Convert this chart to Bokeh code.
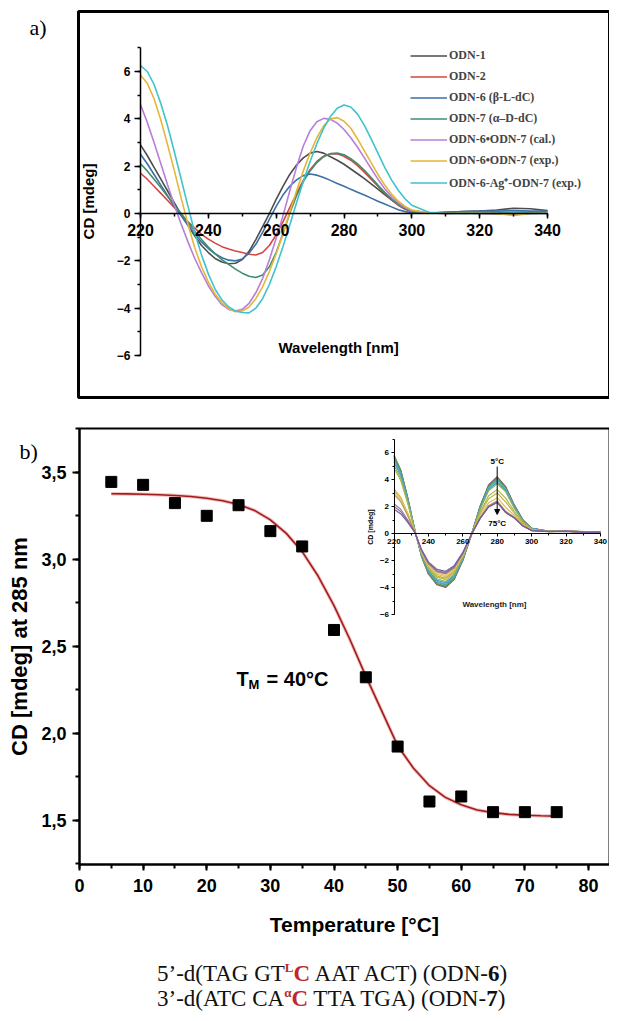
from bokeh.plotting import figure
from bokeh.models import (Range1d, LinearAxis, SingleIntervalTicker, Label, Legend, LegendItem,
                          CustomJSTickFormatter, Arrow, NormalHead, Div, BoxAnnotation)
from bokeh.layouts import column
from bokeh.core.properties import value
from bokeh.embed import file_html
from bokeh.resources import INLINE

# ---------------- data: panel a (CD spectra) ----------------
wl_a = list(range(220, 301, 2)) + [305, 310, 315, 320, 325, 330, 335, 340]

odn1 = [2.9, 2.45, 1.95, 1.45, 0.95, 0.45, -0.05, -0.5, -0.95, -1.35,
        -1.65, -1.9, -2.05, -2.12, -2.1, -1.95, -1.6, -1.1, -0.55, 0.0,
        0.6, 1.15, 1.65, 2.05, 2.35, 2.55, 2.62, 2.55, 2.4, 2.25,
        2.08, 1.88, 1.68, 1.47, 1.25, 1.03, 0.8, 0.58, 0.38, 0.2,
        0.08, 0.02, 0.05, 0.08, 0.1, 0.15, 0.22, 0.2, 0.12]
odn2 = [1.7, 1.45, 1.15, 0.85, 0.55, 0.25, -0.05, -0.35, -0.62, -0.88,
        -1.08, -1.25, -1.4, -1.5, -1.58, -1.65, -1.72, -1.75, -1.65, -1.35,
        -0.9, -0.35, 0.25, 0.85, 1.4, 1.85, 2.2, 2.42, 2.52, 2.52,
        2.42, 2.25, 2.02, 1.75, 1.45, 1.15, 0.85, 0.58, 0.35, 0.18,
        0.08, 0.02, 0.0, 0.02, 0.0, -0.02, -0.05, 0.0, 0.02]
odn6 = [2.5, 2.1, 1.65, 1.2, 0.75, 0.3, -0.1, -0.5, -0.88, -1.2,
        -1.48, -1.7, -1.87, -1.97, -2.0, -1.92, -1.68, -1.3, -0.8, -0.25,
        0.3, 0.78, 1.15, 1.42, 1.6, 1.67, 1.62, 1.52, 1.4, 1.27,
        1.15, 1.02, 0.9, 0.78, 0.65, 0.52, 0.4, 0.28, 0.16, 0.08,
        0.03, 0.02, 0.05, 0.08, 0.1, 0.1, 0.12, 0.1, 0.1]
odn7 = [2.1, 1.8, 1.45, 1.1, 0.72, 0.35, 0.0, -0.38, -0.75, -1.1,
        -1.42, -1.7, -1.95, -2.15, -2.35, -2.52, -2.65, -2.7, -2.6, -2.25,
        -1.65, -0.85, 0.0, 0.75, 1.35, 1.8, 2.15, 2.4, 2.53, 2.55,
        2.48, 2.32, 2.1, 1.82, 1.52, 1.2, 0.9, 0.62, 0.38, 0.2,
        0.08, 0.02, 0.02, 0.05, 0.05, 0.05, 0.05, 0.05, 0.05]
duplex_cal = [4.6, 3.85, 3.0, 2.1, 1.2, 0.35, -0.45, -1.2, -1.9, -2.5,
              -3.05, -3.5, -3.85, -4.05, -4.12, -4.05, -3.8, -3.35, -2.75, -1.95,
              -1.05, -0.1, 0.95, 1.95, 2.85, 3.5, 3.88, 4.02, 3.98, 3.82,
              3.55, 3.2, 2.8, 2.35, 1.9, 1.45, 1.05, 0.72, 0.45, 0.25,
              0.12, 0.02, 0.0, 0.0, 0.0, 0.0, 0.0, 0.0, 0.0]
duplex_exp = [5.85, 5.5, 4.85, 3.95, 2.9, 1.8, 0.65, -0.45, -1.45, -2.25,
              -2.9, -3.4, -3.78, -4.02, -4.15, -4.12, -3.95, -3.6, -3.1, -2.45,
              -1.7, -0.85, 0.05, 0.95, 1.8, 2.55, 3.2, 3.7, 4.0, 4.05,
              3.9, 3.6, 3.15, 2.65, 2.15, 1.65, 1.2, 0.82, 0.52, 0.3,
              0.15, 0.03, 0.0, 0.02, 0.02, 0.0, -0.08, 0.0, 0.02]
duplex_ag = [6.25, 6.0, 5.45, 4.65, 3.7, 2.6, 1.45, 0.3, -0.8, -1.75,
             -2.55, -3.2, -3.65, -3.95, -4.12, -4.18, -4.2, -4.0, -3.6, -3.0,
             -2.25, -1.4, -0.5, 0.45, 1.35, 2.2, 2.95, 3.6, 4.1, 4.45,
             4.58, 4.5, 4.2, 3.72, 3.15, 2.55, 1.95, 1.42, 0.98, 0.62,
             0.35, 0.05, 0.0, 0.0, 0.0, 0.0, 0.02, 0.0, 0.0]

names_a = ["ODN-1", "ODN-2", "ODN-6 (β-L-dC)", "ODN-7 (α–D-dC)",
           "ODN-6•ODN-7 (cal.)", "ODN-6•ODN-7 (exp.)", "ODN-6-Ag⁺-ODN-7 (exp.)"]
colors_a = ["#4d4d4d", "#d64541", "#3b6fa8", "#3e8e6e", "#b77fd8", "#e6b53a", "#3fc3cc"]

# ---------------- data: panel b (melting) ----------------
temp_c = [5, 10, 15, 20, 25, 30, 35, 40, 45, 50, 55, 60, 65, 70, 75]
cd285 = [3.446, 3.429, 3.324, 3.251, 3.312, 3.163, 3.075, 2.595, 2.323, 1.925,
         1.609, 1.638, 1.548, 1.548, 1.548]
fit_t = [5, 7.5, 10, 12.5, 15, 17.5, 20, 22.5, 25, 27.5, 30, 32.5, 35, 37.5, 40,
         42.5, 45, 47.5, 50, 52.5, 55, 57.5, 60, 62.5, 65, 67.5, 70, 72.5, 75]
fit_cd = [3.378, 3.377, 3.375, 3.372, 3.368, 3.362, 3.352, 3.338, 3.316, 3.282,
          3.228, 3.15, 3.045, 2.905, 2.735, 2.54, 2.33, 2.13, 1.93, 1.80,
          1.70, 1.633, 1.59, 1.56, 1.545, 1.535, 1.53, 1.527, 1.525]

# ---------------- data: inset (spectra 5..75 °C) ----------------
inset_wl = [220, 224, 228, 232, 236, 240, 245, 250, 255, 260, 265, 270, 275, 280,
            285, 290, 295, 300, 310, 320, 330, 340]
ins_05 = [5.7, 4.6, 2.6, 0.3, -1.7, -3.0, -3.8, -4.0, -3.4, -2.0, -0.1, 2.0, 3.6, 4.2, 3.45, 2.1, 1.0, 0.4, 0.15, 0.2, 0.1, 0.1]
ins_10 = [5.8, 4.68, 2.65, 0.31, -1.68, -2.96, -3.75, -3.95, -3.36, -1.98, -0.1, 1.98, 3.56, 4.15, 3.43, 2.08, 0.99, 0.39, 0.18, 0.22, 0.12, 0.08]
ins_15 = [5.75, 4.64, 2.62, 0.3, -1.66, -2.93, -3.71, -3.9, -3.32, -1.95, -0.1, 1.93, 3.47, 4.05, 3.32, 2.03, 0.96, 0.38, 0.14, 0.18, 0.1, 0.12]
ins_20 = [5.6, 4.52, 2.55, 0.3, -1.62, -2.85, -3.61, -3.8, -3.23, -1.9, -0.1, 1.88, 3.39, 3.95, 3.25, 1.98, 0.94, 0.38, 0.16, 0.2, 0.14, 0.1]
ins_25 = [5.45, 4.4, 2.49, 0.29, -1.59, -2.81, -3.56, -3.75, -3.19, -1.88, -0.09, 1.88, 3.39, 3.95, 3.31, 1.98, 0.94, 0.38, 0.15, 0.17, 0.08, 0.06]
ins_30 = [5.3, 4.28, 2.42, 0.28, -1.55, -2.74, -3.47, -3.65, -3.1, -1.83, -0.09, 1.81, 3.26, 3.8, 3.16, 1.9, 0.9, 0.36, 0.17, 0.21, 0.1, 0.08]
ins_35 = [5.05, 4.08, 2.3, 0.27, -1.51, -2.66, -3.37, -3.55, -3.02, -1.78, -0.09, 1.76, 3.17, 3.7, 3.08, 1.85, 0.88, 0.35, 0.14, 0.19, 0.12, 0.1]
ins_40 = [4.85, 3.91, 2.21, 0.26, -1.45, -2.55, -3.23, -3.4, -2.89, -1.7, -0.09, 1.55, 2.79, 3.25, 2.6, 1.63, 0.77, 0.31, 0.16, 0.2, 0.08, 0.05]
ins_45 = [3.3, 2.66, 1.5, 0.17, -1.4, -2.48, -3.14, -3.3, -2.81, -1.65, -0.08, 1.43, 2.57, 3.0, 2.32, 1.5, 0.71, 0.29, 0.15, 0.22, 0.1, 0.12]
ins_50 = [3.2, 2.58, 1.46, 0.17, -1.36, -2.4, -3.04, -3.2, -2.72, -1.6, -0.08, 1.26, 2.27, 2.65, 1.93, 1.33, 0.63, 0.25, 0.14, 0.18, 0.06, 0.1]
ins_55 = [3.05, 2.46, 1.39, 0.16, -1.32, -2.33, -2.95, -3.1, -2.64, -1.55, -0.08, 1.14, 2.06, 2.4, 1.61, 1.2, 0.57, 0.23, 0.15, 0.2, 0.12, 0.08]
ins_60 = [2.9, 2.34, 1.32, 0.15, -1.28, -2.25, -2.85, -3.0, -2.55, -1.5, -0.08, 1.14, 2.06, 2.4, 1.64, 1.2, 0.57, 0.23, 0.17, 0.16, 0.1, 0.06]
ins_65 = [2.2, 1.78, 1.0, 0.12, -1.25, -2.21, -2.8, -2.95, -2.51, -1.48, -0.07, 1.12, 2.01, 2.35, 1.55, 1.18, 0.56, 0.22, 0.16, 0.2, 0.14, 0.12]
ins_70 = [2.0, 1.61, 0.91, 0.11, -1.23, -2.18, -2.76, -2.9, -2.47, -1.45, -0.07, 1.1, 1.97, 2.3, 1.55, 1.15, 0.55, 0.22, 0.15, 0.18, 0.1, 0.08]
ins_75 = [1.8, 1.45, 0.82, 0.1, -1.19, -2.1, -2.66, -2.8, -2.38, -1.4, -0.07, 1.1, 1.97, 2.3, 1.55, 1.15, 0.55, 0.22, 0.14, 0.16, 0.08, 0.1]
inset_colors = ["#7d4f7d", "#8c6d4f", "#5a9e4b", "#3f9e8a", "#45b5c9", "#5a8fd0", "#88b45a",
                "#a8b94a", "#c9b23f", "#d8c25a", "#e2c96a", "#b89a5e", "#9a7f8a", "#8a6fa8", "#7a5ca0"]

SANS = "Liberation Sans"
SERIF = "Liberation Serif"
W = 609


def style_axis(ax, fs, lw, mo, mno):
    ax.axis_line_width = lw
    ax.axis_line_color = "black"
    ax.major_tick_line_width = lw
    ax.minor_tick_line_width = lw
    ax.major_tick_in = 0
    ax.minor_tick_in = 0
    ax.major_tick_out = mo
    ax.minor_tick_out = mno
    ax.major_label_text_font = SANS
    ax.major_label_text_font_style = "bold"
    ax.major_label_text_font_size = fs
    ax.major_label_text_color = "black"
    ax.axis_label_text_font = SANS
    ax.axis_label_text_font_style = "bold"
    ax.axis_label_text_color = "black"


def lab(**kw):
    base = dict(text_font=SANS, text_font_style="bold", text_color="black")
    base.update(kw)
    return Label(**base)


# ================= panel a =================
pa = figure(width=W, height=412, output_backend="svg", toolbar_location=None,
            x_range=Range1d(178.73, 358.27), y_range=Range1d(-8.407, 8.999),
            x_axis_location=None, y_axis_location=None,
            min_border_left=0, min_border_right=0, min_border_top=0, min_border_bottom=0)
pa.grid.visible = False
pa.outline_line_color = None
pa.add_layout(BoxAnnotation(left=201.72, right=358.27, bottom=-7.773, top=8.534,
                            fill_alpha=0, line_color="black", line_alpha=1, line_width=3))

items = []
for name, ys, c in zip(names_a, [odn1, odn2, odn6, odn7, duplex_cal, duplex_exp, duplex_ag], colors_a):
    r = pa.line(wl_a, ys, line_color=c, line_width=1.6)
    items.append(LegendItem(label=value(name), renderers=[r]))

ay = LinearAxis(fixed_location=220, bounds=(-6, 7),
                ticker=SingleIntervalTicker(interval=2, num_minor_ticks=2),
                axis_label="CD [mdeg]")
style_axis(ay, "12px", 1.5, 6, 3)
ay.major_label_standoff = 4
ay.axis_label_text_font_size = "15px"
ay.axis_label_standoff = 17
pa.add_layout(ay, "left")

ax = LinearAxis(fixed_location=0, bounds=(220, 340),
                ticker=SingleIntervalTicker(interval=20, num_minor_ticks=2))
style_axis(ax, "16px", 1.5, 5, 3)
ax.major_label_standoff = 5
pa.add_layout(ax, "below")

pa.add_layout(lab(x=278.4, y=-5.66, text="Wavelength [nm]", text_align="center",
                  text_baseline="middle", text_font_size="15px"))
pa.add_layout(lab(x=187.3, y=7.86, text="a)", text_font=SERIF, text_font_style="normal",
                  text_font_size="22px", text_baseline="alphabetic"))

# legend: frame bottom-left is the canvas bottom-left here
leg = Legend(items=items, location=(410, 221), orientation="vertical",
             label_text_font=SERIF, label_text_font_style="bold", label_text_font_size="12px",
             glyph_width=37, glyph_height=15, label_height=15, label_standoff=2, spacing=6,
             padding=0, margin=0, border_line_color=None, background_fill_alpha=0)
pa.add_layout(leg)

# ================= panel b =================
HB = 528
pb = figure(width=W, height=HB, output_backend="svg", toolbar_location=None,
            x_range=Range1d(-12.416, 83.30), y_range=Range1d(0.8103, 3.8448),
            x_axis_location=None, y_axis_location=None,
            min_border_left=0, min_border_right=0, min_border_top=0, min_border_bottom=0)
pb.grid.visible = False
pb.outline_line_color = None
pb.extra_x_ranges = {"ix": Range1d(-8.78, 345.29)}
pb.extra_y_ranges = {"iy": Range1d(-30.148, 8.963)}
pb.add_layout(BoxAnnotation(left=0, right=83.30, bottom=1.247, top=3.753,
                            fill_alpha=0, line_color="black", line_alpha=1, line_width=2))

bx = LinearAxis(fixed_location=1.247, bounds=(0, 83.3),
                ticker=SingleIntervalTicker(interval=10, num_minor_ticks=2))
style_axis(bx, "18px", 2, 6, 4)
bx.major_label_standoff = 8
pb.add_layout(bx, "below")
by = LinearAxis(fixed_location=0, bounds=(1.247, 3.753),
                ticker=SingleIntervalTicker(interval=0.5, num_minor_ticks=2),
                formatter=CustomJSTickFormatter(code="return tick.toFixed(1).replace('.', ',');"),
                axis_label="CD [mdeg] at 285 nm")
style_axis(by, "18px", 2, 7, 4)
by.major_label_standoff = 6
by.axis_label_text_font_size = "22px"
by.axis_label_standoff = 6
pb.add_layout(by, "left")
pb.add_layout(lab(x=43.2, y=0.902, text="Temperature [°C]", text_align="center",
                  text_baseline="middle", text_font_size="21px"))

# inset spectra
inset_series = [ins_05, ins_10, ins_15, ins_20, ins_25, ins_30, ins_35, ins_40,
                ins_45, ins_50, ins_55, ins_60, ins_65, ins_70, ins_75]
for ys, c in zip(inset_series, inset_colors):
    pb.line(inset_wl, ys, x_range_name="ix", y_range_name="iy", line_color=c, line_width=1.2)

iy = LinearAxis(x_range_name="ix", y_range_name="iy", fixed_location=220, bounds=(-6, 7),
                ticker=SingleIntervalTicker(interval=2, num_minor_ticks=2), axis_label="CD [mdeg]")
style_axis(iy, "8px", 1, 3, 2)
iy.major_label_standoff = 2
iy.axis_label_text_font_size = "7px"
iy.axis_label_standoff = 3
pb.add_layout(iy, "left")
ix = LinearAxis(x_range_name="ix", y_range_name="iy", fixed_location=0, bounds=(220, 340),
                ticker=SingleIntervalTicker(interval=20, num_minor_ticks=2))
style_axis(ix, "8px", 1, 3, 2)
ix.major_label_standoff = 2
pb.add_layout(ix, "below")
pb.add_layout(lab(x=278.4, y=-5.26, x_range_name="ix", y_range_name="iy", text="Wavelength [nm]",
                  text_align="center", text_baseline="middle", text_font_size="8px", text_color="#222"))
pb.add_layout(lab(x=280, y=5.33, x_range_name="ix", y_range_name="iy", text="5°C",
                  text_align="center", text_baseline="middle", text_font_size="8px"))
pb.add_layout(lab(x=280, y=0.75, x_range_name="ix", y_range_name="iy", text="75°C",
                  text_align="center", text_baseline="middle", text_font_size="8px"))
pb.add_layout(Arrow(end=NormalHead(size=5, fill_color="black", line_color="black"),
                    x_start=280, y_start=4.96, x_end=280, y_end=1.41,
                    x_range_name="ix", y_range_name="iy", line_width=1, line_color="black"))

# melting curve
pb.line(fit_t, fit_cd, line_color="#e58080", line_width=3.5, line_alpha=0.5)
pb.line(fit_t, fit_cd, line_color="#a11d1d", line_width=1.6)
pb.scatter(temp_c, cd285, marker="square", size=11, fill_color="black", line_color="black")

pb.add_layout(lab(x=24.68, y=2.316, text="T", text_font_size="20px", text_baseline="alphabetic"))
pb.add_layout(lab(x=24.68, y=2.316, x_offset=12, y_offset=-6, text="M",
                  text_font_size="13px", text_baseline="alphabetic"))
pb.add_layout(lab(x=24.68, y=2.316, x_offset=30, text="= 40°C",
                  text_font_size="20px", text_baseline="alphabetic"))
pb.add_layout(lab(x=-9.43, y=3.621, text="b)", text_font=SERIF, text_font_style="normal",
                  text_font_size="22px", text_baseline="alphabetic"))

# ================= sequences =================
red = "#c0282d"
sup = f'<span style="color:{red};font-weight:bold;font-size:13px;vertical-align:9px;line-height:0;">'
big = f'<span style="color:{red};font-weight:bold;font-size:23px;">'
seq_html = (
    f'<div style="font-family:\'Liberation Serif\',serif;font-size:23px;line-height:25px;'
    f'color:#111;text-align:left;padding-left:157px;padding-top:21px;white-space:nowrap;">'
    f'5’-d(TAG GT{sup}L</span>{big}C</span> AAT ACT) (ODN-<b>6</b>)<br>'
    f'3’-d(ATC CA{sup}α</span>{big}C</span> TTA TGA) (ODN-<b>7</b>)</div>'
)
div = Div(text=seq_html, width=W, height=1013 - 8 - 412 - HB, margin=(0, 0, 0, 0))

layout = column(pa, pb, div, spacing=0)
open("out.html", "w").write(file_html(layout, INLINE))
